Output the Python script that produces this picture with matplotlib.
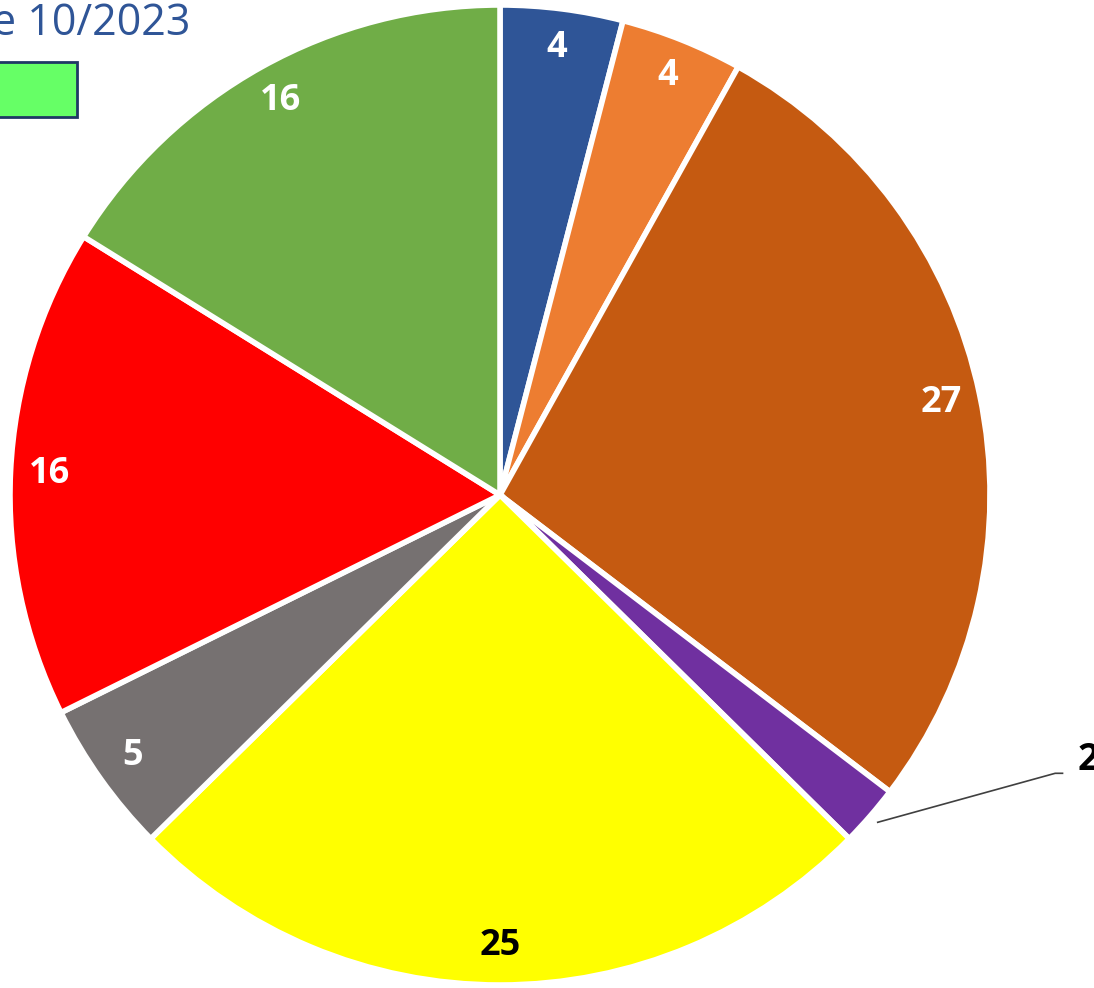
import numpy as np
import matplotlib.pyplot as plt
from matplotlib.patches import Rectangle

# slice data, clockwise from 12 o'clock
categories = ['A', 'B', 'C', 'D', 'E', 'F', 'G', 'H']
values = [4, 4, 27, 2, 25, 5, 16, 16]
colors = ['#2F5597', '#ED7D31', '#C55A11', '#7030A0',
          '#FFFF00', '#767171', '#FF0000', '#70AD47']
label_colors = ['white', 'white', 'white', 'black',
                'black', 'white', 'white', 'white']
title_text = 'e 10/2023'

W, H = 1094, 988
fig = plt.figure(figsize=(W / 100, H / 100), dpi=100)

# pie centre ~ (500, 495) px, radius ~ 490 px
cx, cy, r = 500, 495, 490
ax = fig.add_axes([(cx - r) / W, (H - cy - r) / H, 2 * r / W, 2 * r / H])

wedges, _ = ax.pie(values, colors=colors, startangle=90, counterclock=False,
                   radius=1, wedgeprops=dict(edgecolor='white', linewidth=4))
ax.set_xlim(-1, 1)
ax.set_ylim(-1, 1)
ax.set_aspect('equal')
ax.axis('off')
for w in wedges:
    w.set_clip_on(False)

for w, v, lc in zip(wedges, values, label_colors):
    mid = np.deg2rad((w.theta1 + w.theta2) / 2)
    if v <= 2:
        # small slice: label outside with leader line
        x0, y0 = 1.02 * np.cos(mid), 1.02 * np.sin(mid)
        x1, y1 = 1.133, y0 + 0.10
        ax.plot([x0, x1, x1 + 0.015], [y0, y1, y1], color='#404040',
                lw=1.2, clip_on=False)
        ax.text(x1 + 0.045, y1 + 0.028, str(v), color=lc, fontsize=27,
                fontweight='bold', family='Open Sans', ha='left', va='center',
                clip_on=False)
    else:
        d = 0.92
        ax.text(d * np.cos(mid), d * np.sin(mid), str(v), color=lc,
                fontsize=26, fontweight='bold', family='Open Sans',
                ha='center', va='center')

# partially visible title and legend swatch at the top-left
fig.text(190 / W, 1 - 24 / H, title_text, color='#2F5597', fontsize=31,
         family='Open Sans', ha='right', va='center')
fig.patches.append(Rectangle((-5 / W, 1 - 117 / H), 82 / W, 55 / H,
                             transform=fig.transFigure, facecolor='#66FF66',
                             edgecolor='#1F3864', linewidth=2))

fig.savefig('out.png', dpi=100)
